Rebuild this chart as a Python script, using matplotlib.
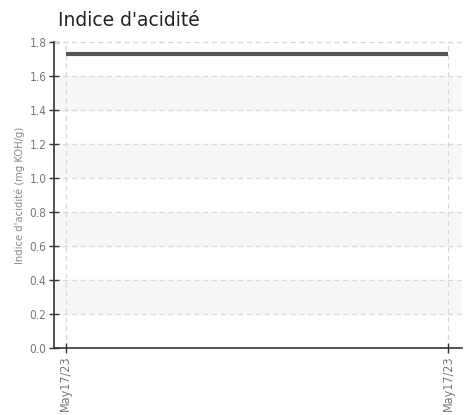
import numpy as np
import matplotlib.pyplot as plt

dates = ["May17/23", "May17/23"]
acid_values = [1.73, 1.73]
y_ticks = [0.0, 0.2, 0.4, 0.6, 0.8, 1.0, 1.2, 1.4, 1.6, 1.8]

narrow = dict(family="DejaVu Sans", stretch="condensed")

fig = plt.figure(figsize=(4.65, 4.15), dpi=100)
ax = fig.add_axes([0.116, 0.161, 0.878, 0.738])

x = np.arange(len(dates))
# alternating bands
for i in range(1, len(y_ticks) - 1, 2):
    ax.axhspan(y_ticks[i], y_ticks[i + 1], color="#f7f7f7", zorder=0)

ax.plot(x, acid_values, color="#555555", lw=3, solid_capstyle="butt", zorder=3)

ax.set_xlim(-0.031, 1.037)
ax.set_ylim(0, 1.8)
ax.set_yticks(y_ticks)
ax.set_yticklabels([f"{v:.1f}" for v in y_ticks], fontsize=8.5, color="#777777", **narrow)
ax.set_xticks(x)
ax.set_xticklabels(dates, rotation=90, fontsize=9, color="#777777", **narrow)

ax.grid(True, color="#d8d8d8", linestyle=(0, (4, 3)), lw=0.9, zorder=1)
ax.set_axisbelow(True)
ax.axhline(1.8, color="#d8d8d8", linestyle=(0, (4, 3)), lw=0.9, clip_on=False)

for s in ["top", "right"]:
    ax.spines[s].set_visible(False)
for s in ["left", "bottom"]:
    ax.spines[s].set_color("#333333")
    ax.spines[s].set_linewidth(1.2)
ax.tick_params(direction="inout", length=7, width=1, color="#333333", pad=2)

ax.set_ylabel("Indice d'acidité (mg KOH/g)", fontsize=8, color="#888888", labelpad=3, **narrow)
fig.text(0.125, 0.937, "Indice d'acidité", fontsize=13.5, color="#222222", family="DejaVu Sans")

fig.savefig("out.png", dpi=100)
